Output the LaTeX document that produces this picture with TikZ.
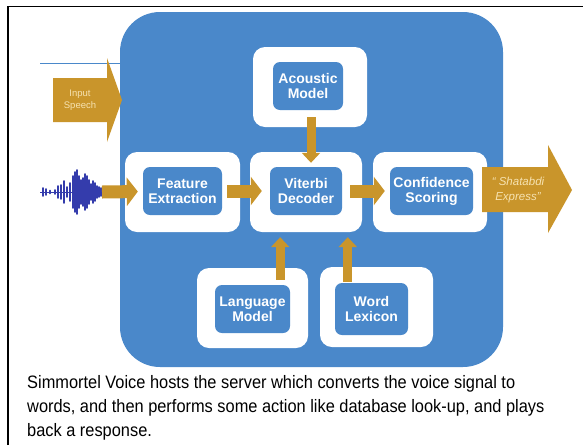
\documentclass[tikz,border=0pt]{standalone}
\usepackage{fontspec}
\setmainfont{Liberation Sans}
\newfontfamily\captionfont{Liberation Sans}[FakeStretch=0.91]
\usepackage{tikz}
\usetikzlibrary{arrows.meta}
\usetikzlibrary{positioning}
\usetikzlibrary{calc}

\definecolor{voiceblue}{RGB}{74,136,202}
\definecolor{voicegold}{RGB}{201,149,43}
\definecolor{wavedark}{RGB}{52,60,172}
\definecolor{goldtext}{RGB}{246,226,176}

\begin{document}
\begin{tikzpicture}[x=1pt, y=-1pt,
		wrap/.style={rectangle, rounded corners=12pt, fill=white, minimum width=114pt, minimum height=80pt},
		block/.style={rectangle, rounded corners=7pt, fill=voiceblue, text=white, align=center, inner sep=2pt,
			font=\bfseries\fontsize{14}{15}\selectfont, minimum width=72pt, minimum height=48pt},
		flow/.style={draw=voicegold, line width=13pt, -{Triangle[length=11pt, width=28pt]}},
		feed/.style={draw=voicegold, line width=9pt, -{Triangle[length=10pt, width=18pt]}},
		caption/.style={anchor=base west, inner sep=0pt, font=\captionfont\fontsize{18}{22}\selectfont}]
	\useasboundingbox (0,0) rectangle (583,445);
	\fill[white] (0,0) rectangle (583,445);
	\draw[line width=1.5pt] (8,445) -- (8,6.5) -- (583,6.5);
	\draw[voiceblue, line width=0.8pt] (40,63) -- (120,63);
	\node[fill=voiceblue, rounded corners=40pt, minimum width=383pt, minimum height=355pt] (Server) at (311.5,189.5) {};
	% white trays with the processing stages
	\node[wrap] (AcousticBg) at (310,87) {};
	\node[wrap, minimum width=115pt] (FeatureBg) at (182.5,192) {};
	\node[wrap, minimum width=112pt] (ViterbiBg) at (306,192) {};
	\node[wrap] (ConfidenceBg) at (430,192) {};
	\node[wrap, minimum width=111pt] (LanguageBg) at (252.5,308) {};
	\node[wrap, minimum width=113pt] (LexiconBg) at (376.5,307) {};
	\node[block, minimum width=70pt] (Acoustic) at (308,86) {Acoustic\\Model};
	\node[block, minimum width=79pt] (Feature) at (182.5,191) {Feature\\Extraction};
	\node[block] (Viterbi) at (306,191) {Viterbi\\Decoder};
	\node[block, minimum width=83pt] (Confidence) at (431.5,191) {Confidence\\Scoring};
	\node[block, minimum width=75pt] (Language) at (252.5,309) {Language\\Model};
	\node[block, minimum width=73pt, minimum height=52pt] (Lexicon) at (371.5,309) {Word\\Lexicon};
	% speech waveform
	\draw[wavedark, line width=0.8pt] (40,192) -- (102,192);
	\foreach \x/\h in {43/4, 46/3, 50/1.5, 55/2, 58/6, 61/7, 64/11, 67/5, 70/9, 73/16, 75/20, 77/22, 79/16, 81/12, 83/14, 85/18, 87/16, 89/12, 91/8, 93/11, 95/9, 97/6, 99/5, 101/4}
		\draw[wavedark, line width=1.6pt, line cap=round] (\x,{192-\h}) -- (\x,{192+\h});
	\coordinate (WaveEnd) at (102,192);
	% data flow
	\draw[flow, shorten >=5pt] (WaveEnd) -- (Feature);
	\draw[flow, shorten <=5pt, shorten >=8pt] (Feature) -- (Viterbi);
	\draw[flow, shorten <=8pt, shorten >=5pt] (Viterbi) -- (Confidence);
	\draw[feed, shorten <=7pt, shorten >=4pt] ([xshift=3pt]Acoustic.south) -- ([xshift=3pt]Acoustic.south |- Viterbi.north);
	\draw[feed, shorten <=5pt, shorten >=5pt] ([xshift=-10pt]Language.north east) -- ([xshift=-10pt]Language.north east |- ViterbiBg.south);
	\draw[feed, shorten <=1pt, shorten >=5pt] ([xshift=13pt]Lexicon.north west) -- ([xshift=13pt]Lexicon.north west |- ViterbiBg.south);
	% input and output block arrows
	\fill[voicegold] (53,78) -- (107,78) -- (107,58) -- (122,100) -- (107,142) -- (107,122) -- (53,122) -- cycle;
	\node[text=goldtext, align=center, font=\fontsize{9.5}{12}\selectfont] (InputSpeech) at (80,100) {Input\\Speech};
	\fill[voicegold] (482,167) -- (548,167) -- (548,145) -- (572,190) -- (548,233) -- (548,212) -- (482,212) -- cycle;
	\node[text=goldtext, align=center, font=\itshape\fontsize{11.5}{15}\selectfont] (Result) at (518,190) {“ Shatabdi\\Express”};
	% caption
	\node[caption] (CaptionA) at (27,388) {Simmortel Voice hosts the server which converts the voice signal to};
	\node[caption] (CaptionB) at (27,412) {words, and then performs some action like database look-up, and plays};
	\node[caption] (CaptionC) at (27,436) {back a response.};
\end{tikzpicture}
\end{document}
